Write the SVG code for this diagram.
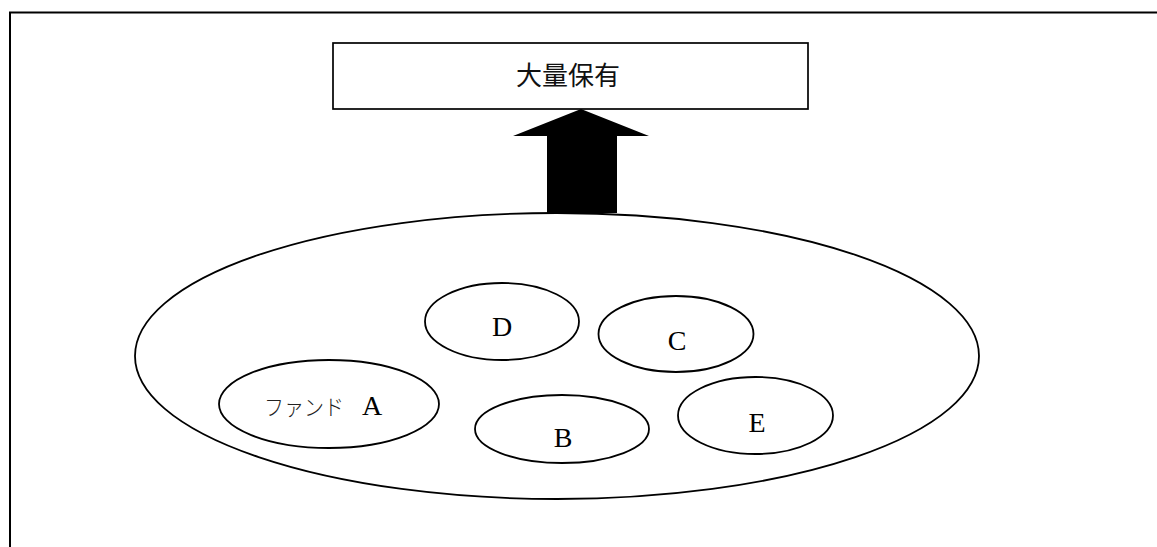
<svg xmlns="http://www.w3.org/2000/svg" width="1157" height="547" viewBox="0 0 1157 547">
  <style>
    .frame { fill: none; stroke: #000; stroke-width: 2; }
    .box { fill: #fff; stroke: #000; stroke-width: 1.7; }
    .oval { fill: #fff; stroke: #000; stroke-width: 1.8; }
    .latin { font-family: "Liberation Serif", "Times New Roman", serif; font-size: 28px; fill: #000; text-anchor: middle; }
    .kana { font-family: "Noto Sans CJK JP", sans-serif; font-size: 22px; font-weight: 300; fill: #222; }
    .title { font-family: "Noto Sans CJK JP", "Noto Sans", sans-serif; font-size: 26px; fill: #111; text-anchor: middle; }
  </style>
  <rect width="1157" height="547" fill="#fff"/>

  <!-- outer frame: top and left edges -->
  <path class="frame" d="M10 547 V12.5 H1157"/>

  <!-- holding group -->
  <g id="group">
    <ellipse class="oval" cx="557" cy="356" rx="422" ry="143"/>
  </g>

  <!-- upward block arrow into the total box -->
  <g id="connectors">
    <path d="M547 213 V136 H513 L581 109 L649 136 H617 V213 Z" fill="#000"/>
  </g>

  <g id="total">
    <rect class="box" x="333" y="43" width="475" height="66"/>
    <text class="title" x="568" y="85">大量保有</text>
  </g>

  <g id="fund-a">
    <ellipse class="oval" cx="329" cy="404" rx="110" ry="44"/>
    <text class="kana" x="264" y="415" textLength="80" lengthAdjust="spacingAndGlyphs">ファンド</text>
    <text class="latin" x="372" y="415">A</text>
  </g>

  <g id="fund-d">
    <ellipse class="oval" cx="502" cy="321.5" rx="77" ry="38.5"/>
    <text class="latin" x="502" y="336">D</text>
  </g>

  <g id="fund-c">
    <ellipse class="oval" cx="676" cy="334" rx="77.5" ry="38"/>
    <text class="latin" x="677" y="350">C</text>
  </g>

  <g id="fund-b">
    <ellipse class="oval" cx="562" cy="429" rx="87" ry="34"/>
    <text class="latin" x="563" y="447">B</text>
  </g>

  <g id="fund-e">
    <ellipse class="oval" cx="755.5" cy="415.5" rx="77.5" ry="38.5"/>
    <text class="latin" x="757" y="432">E</text>
  </g>
</svg>
